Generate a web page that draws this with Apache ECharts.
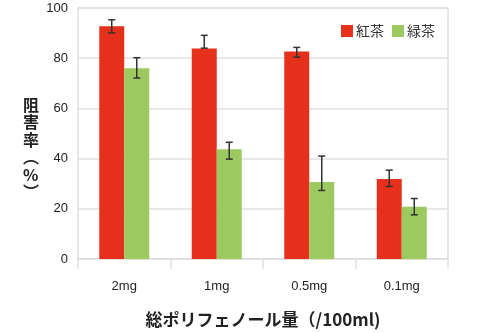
<!DOCTYPE html>
<html>
<head>
<meta charset="utf-8">
<script src="https://cdn.jsdelivr.net/npm/echarts@6/dist/echarts.min.js"></script>
<style>html,body{margin:0;padding:0;background:#fff;}#c{width:500px;height:333px;}</style>
</head>
<body>
<div id="c"></div>
<script>
var categories = ['2mg', '1mg', '0.5mg', '0.1mg'];
var seriesNames = ['紅茶', '緑茶'];
var kouchaValues = [92.7, 83.9, 82.7, 31.9];
var kouchaErrLow = [90.1, 84.0, 80.4, 28.9];
var kouchaErrHigh = [95.3, 89.1, 84.3, 35.4];
var ryokuchaValues = [76.0, 43.7, 30.7, 20.8];
var ryokuchaErrLow = [72.1, 39.8, 27.3, 17.6];
var ryokuchaErrHigh = [80.2, 46.5, 41.0, 24.1];
var yTicks = [0, 20, 40, 60, 80, 100];

var RED = '#e5311b';
var GREEN = '#9dca60';
var BAR_W = 25;

function errData(low, high) {
  return categories.map(function (c, i) { return [i, low[i], high[i]]; });
}
function errRender(offset) {
  return function (params, api) {
    var idx = api.value(0);
    var pLow = api.coord([idx, api.value(1)]);
    var pHigh = api.coord([idx, api.value(2)]);
    var x = pLow[0] + offset;
    var hw = 3.5;
    var st = { stroke: '#333', lineWidth: 1.5 };
    return {
      type: 'group',
      children: [
        { type: 'line', shape: { x1: x, y1: pLow[1], x2: x, y2: pHigh[1] }, style: st },
        { type: 'line', shape: { x1: x - hw, y1: pLow[1], x2: x + hw, y2: pLow[1] }, style: st },
        { type: 'line', shape: { x1: x - hw, y1: pHigh[1], x2: x + hw, y2: pHigh[1] }, style: st }
      ]
    };
  };
}

var chart = echarts.init(document.getElementById('c'));
chart.setOption({
  backgroundColor: '#fff',
  animation: false,
  textStyle: { fontFamily: '"Liberation Sans", Arial, "Noto Sans CJK JP", sans-serif' },
  grid: { left: 78, right: 52, top: 8, bottom: 69, show: true, borderColor: '#e0e0e0', borderWidth: 1.5 },
  legend: {
    data: seriesNames,
    right: 60, top: 19,
    itemWidth: 12, itemHeight: 12, itemGap: 8,
    icon: 'rect',
    textStyle: { fontSize: 14, color: '#333', fontFamily: '"Noto Sans CJK JP", sans-serif', padding: [0, 0, 0, -2] }
  },
  xAxis: {
    type: 'category',
    data: categories,
    axisLine: { lineStyle: { color: '#e0e0e0', width: 1.5 } },
    axisTick: { show: true, length: 10, lineStyle: { color: '#e0e0e0', width: 1.5 } },
    axisLabel: { fontSize: 13, color: '#222', margin: 21 },
    name: '総ポリフェノール量（/100ml)',
    nameLocation: 'middle',
    nameGap: 52,
    nameTextStyle: { fontSize: 17, fontWeight: 'bold', color: '#222', fontFamily: '"Noto Sans CJK JP", sans-serif' }
  },
  yAxis: {
    type: 'value',
    min: 0, max: 100, interval: 20,
    axisLine: { show: false },
    axisTick: { show: false },
    axisLabel: { fontSize: 13, color: '#222', margin: 10,
      formatter: function (v) { return yTicks.indexOf(v) >= 0 ? String(v) : ''; } },
    splitLine: { lineStyle: { color: '#e0e0e0', width: 1.5 } }
  },
  graphic: [{
    type: 'text',
    left: 23, top: 96,
    style: {
      text: '阻\n害\n率\n︵\n%\n︶',
      fontSize: 16, fontWeight: 'bold', lineHeight: 17.5,
      fill: '#222', align: 'center',
      fontFamily: '"Noto Sans CJK JP", sans-serif'
    }
  }],
  series: [
    { name: seriesNames[0], type: 'bar', data: kouchaValues, barWidth: BAR_W, barGap: '0%',
      itemStyle: { color: RED } },
    { name: seriesNames[1], type: 'bar', data: ryokuchaValues, barWidth: BAR_W, barGap: '0%',
      itemStyle: { color: GREEN } },
    { type: 'custom', renderItem: errRender(-BAR_W / 2), data: errData(kouchaErrLow, kouchaErrHigh), z: 10,
      encode: { x: 0, y: [1, 2] } },
    { type: 'custom', renderItem: errRender(BAR_W / 2), data: errData(ryokuchaErrLow, ryokuchaErrHigh), z: 10,
      encode: { x: 0, y: [1, 2] } }
  ]
});
</script>
</body>
</html>
